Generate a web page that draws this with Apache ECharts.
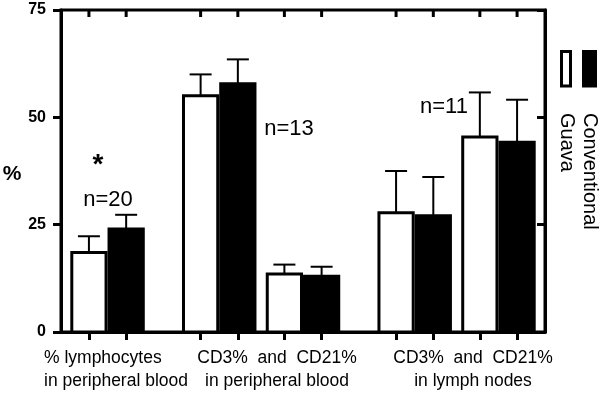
<!DOCTYPE html>
<html>
<head>
<meta charset="utf-8">
<script src="https://cdn.jsdelivr.net/npm/echarts@6/dist/echarts.min.js"></script>
<style>
  html, body { margin: 0; padding: 0; background: #fff; }
  #chart { width: 600px; height: 393px; }
</style>
</head>
<body>
<div id="chart"></div>
<script>
// values (%)
const guavaMean = [18.5, 55.0, 13.5, 27.8, 45.4];
const guavaErr = [3.8, 5.0, 2.2, 9.7, 10.4];
const conventionalMean = [24.0, 57.8, 13.0, 27.1, 44.2];
const conventionalErr = [3.3, 5.7, 2.2, 9.0, 9.9];
const yTicks = [0, 25, 50, 75];
const sampleSizes = ['n=20', 'n=13', 'n=11'];

// layout: centre of each bar pair on the x scale (1 unit = 1 bar width)
const pairCenters = [1.25, 4.25, 6.5, 9.5, 11.75];
const guavaX = pairCenters.map(c => c - 0.5);
const conventionalX = pairCenters.map(c => c + 0.5);
const allX = guavaX.concat(conventionalX).sort((a, b) => a - b);

const FONT = '"Liberation Sans", Arial, Helvetica, sans-serif';

function barWithError(fill) {
  return function (params, api) {
    const x = api.value(0);
    const v = api.value(1);
    const e = api.value(2);
    const base = api.coord([x, 0]);
    const top = api.coord([x, v]);
    const errTop = api.coord([x, v + e]);
    const w = api.size([1, 0])[0] * 0.92;
    return {
      type: 'group',
      children: [
        {
          type: 'rect',
          shape: { x: base[0] - w / 2, y: top[1], width: w, height: base[1] - top[1] },
          style: { fill: fill, stroke: '#000', lineWidth: 3 }
        },
        {
          type: 'line',
          shape: { x1: top[0], y1: top[1], x2: errTop[0], y2: errTop[1] },
          style: { stroke: '#000', lineWidth: 2 }
        },
        {
          type: 'line',
          shape: { x1: errTop[0] - 11, y1: errTop[1], x2: errTop[0] + 11, y2: errTop[1] },
          style: { stroke: '#000', lineWidth: 2 }
        }
      ]
    };
  };
}

// short inward ticks hanging from the top frame line, one per bar
function topTick(params, api) {
  const p = api.coord([api.value(0), 75]);
  return {
    type: 'line',
    shape: { x1: p[0], y1: p[1], x2: p[0], y2: p[1] + 7 },
    style: { stroke: '#000', lineWidth: 3 }
  };
}

function txt(text, x, y, size, opts) {
  return {
    type: 'text',
    x: x,
    y: y,
    rotation: (opts && opts.rotation) || 0,
    style: {
      text: text,
      fill: '#000',
      font: ((opts && opts.bold) ? 'bold ' : '') + size + 'px ' + FONT,
      textAlign: (opts && opts.align) || 'center',
      textVerticalAlign: 'middle'
    }
  };
}

const chart = echarts.init(document.getElementById('chart'));
const axisLineStyle = { color: '#000', width: 3 };
const tickStyle = { color: '#000', width: 3 };

chart.setOption({
  animation: false,
  grid: { left: 61, right: 55, top: 10, bottom: 61, show: true, borderColor: '#000', borderWidth: 3, backgroundColor: 'transparent' },
  xAxis: [
    {
      type: 'value', position: 'bottom', min: 0, max: 13,
      axisLine: { show: true, onZero: false, lineStyle: axisLineStyle },
      axisTick: { show: true, customValues: allX, inside: false, length: 8, lineStyle: tickStyle },
      axisLabel: { show: false },
      splitLine: { show: false }
    }
  ],
  yAxis: [
    {
      type: 'value', position: 'left', min: 0, max: 75, interval: 25,
      axisLine: { show: true, onZero: false, lineStyle: axisLineStyle },
      axisTick: { show: true, inside: false, length: 8, lineStyle: tickStyle },
      axisLabel: {
        color: '#000', fontWeight: 'bold', fontSize: 16, fontFamily: FONT, margin: 15,
        customValues: yTicks
      },
      splitLine: { show: false }
    },
    {
      type: 'value', position: 'right', min: 0, max: 75, interval: 25,
      axisLine: { show: true, onZero: false, lineStyle: axisLineStyle },
      axisTick: { show: true, inside: true, length: 8, lineStyle: tickStyle },
      axisLabel: { show: false },
      splitLine: { show: false }
    }
  ],
  series: [
    {
      name: 'Guava',
      type: 'custom',
      renderItem: barWithError('#fff'),
      encode: { x: 0, y: 1 },
      data: guavaMean.map((v, i) => [guavaX[i], v, guavaErr[i]])
    },
    {
      name: 'Conventional',
      type: 'custom',
      renderItem: barWithError('#000'),
      encode: { x: 0, y: 1 },
      data: conventionalMean.map((v, i) => [conventionalX[i], v, conventionalErr[i]])
    },
    {
      name: 'topTicks',
      type: 'custom',
      renderItem: topTick,
      encode: { x: 0 },
      data: allX.map(x => [x])
    }
  ],
  graphic: [
    txt('%', 12, 174, 21, { bold: true }),
    txt('*', 98, 165, 28, { bold: true }),
    txt(sampleSizes[0], 108, 200, 22),
    txt(sampleSizes[1], 289, 129, 22),
    txt(sampleSizes[2], 444, 107, 22),
    txt('% lymphocytes', 44, 358, 17.5, { align: 'left' }),
    txt('in peripheral blood', 44, 381, 17.5, { align: 'left' }),
    txt('CD3%  and  CD21%', 277, 358, 17.5),
    txt('in peripheral blood', 277, 381, 17.5),
    txt('CD3%  and  CD21%', 473, 358, 17.5),
    txt('in lymph nodes', 473, 381, 17.5),
    {
      type: 'rect',
      shape: { x: 561.5, y: 51.5, width: 9, height: 34.5 },
      style: { fill: '#fff', stroke: '#000', lineWidth: 3 }
    },
    {
      type: 'rect',
      shape: { x: 582, y: 50, width: 15, height: 37.5 },
      style: { fill: '#000' }
    },
    txt('Conventional', 590, 113, 20, { align: 'left', rotation: -Math.PI / 2 }),
    txt('Guava', 567, 113, 20, { align: 'left', rotation: -Math.PI / 2 })
  ]
});
</script>
</body>
</html>
